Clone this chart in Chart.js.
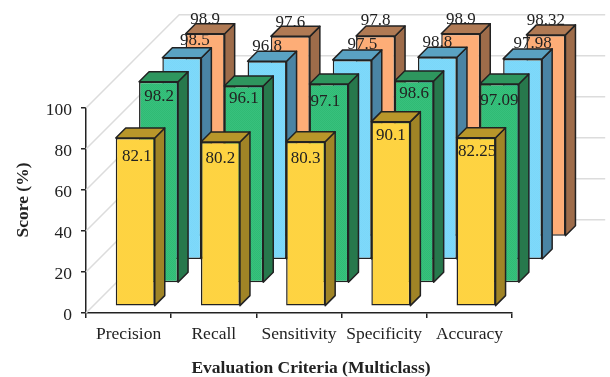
<!DOCTYPE html>
<html>
<head>
<meta charset="utf-8">
<style>
  html, body { margin: 0; background: #fff; }
  canvas { display: block; }
</style>
<script src="https://cdn.jsdelivr.net/npm/chart.js@4"></script>
</head>
<body>
<canvas id="chartId" width="610" height="377"></canvas>
<script>
const categories = ['Precision', 'Recall', 'Sensitivity', 'Specificity', 'Accuracy'];
const yTicks = [0, 20, 40, 60, 80, 100];

// rows go front to back
const frontRow = [82.1, 80.2, 80.3, 90.1, 82.25];
const secondRow = [98.2, 96.1, 97.1, 98.6, 97.09];
const thirdRow = [98.5, 96.8, 97.5, 98.8, 97.98];
const backRow = [98.9, 97.6, 97.8, 98.9, 98.32];

// hand placed value labels, offset from the middle of each bar's top edge
const labelDx = [
    [1.5, 0, 0, 0, 1],
    [0.5, 0, -3.5, 0, 0],
    [13, 0, 10, 0, 10],
    [0, 0, 0, 0, 0]
];
const labelDy = [
    [18.5, 16.5, 17, 13.5, 14],
    [14.5, 12.5, 17.5, 12.5, 16.5],
    [-17.5, -14.5, -15.5, -14.5, -15.5],
    [-14.5, -14, -15, -14.5, -14.5]
];

const SERIF = '"Liberation Serif", "Times New Roman", serif';
const ROW_STEP = 23.3;   // depth of one row
const BAR_DEPTH = 10;
const ROW_MARGIN = (ROW_STEP - BAR_DEPTH) / 2;
const WALL = ROW_STEP * 4;

function hatch(base, dot) {
    const c = document.createElement('canvas');
    c.width = 2;
    c.height = 2;
    const g = c.getContext('2d');
    g.fillStyle = base;
    g.fillRect(0, 0, 2, 2);
    g.fillStyle = dot;
    g.fillRect(0, 0, 1, 1);
    g.fillRect(1, 1, 1, 1);
    return g.createPattern(c, 'repeat');
}

const rows = [
    { data: frontRow, front: hatch('#ffd74c', '#fdd038'), side: '#a08426', top: '#b8962a' },
    { data: secondRow, front: hatch('#38c27e', '#30ba74'), side: '#27784c', top: '#2e965e' },
    { data: thirdRow, front: hatch('#88dcfc', '#72d4f8'), side: '#4a84a4', top: '#5aa2c2' },
    { data: backRow, front: hatch('#ffb27e', '#fca970'), side: '#9e6c4a', top: '#b07a54' }
];

function rowShift(i) {
    return ROW_MARGIN + i * ROW_STEP;
}

function face(ctx, pts, fill) {
    ctx.beginPath();
    pts.forEach(function(p, n) {
        if (n === 0) ctx.moveTo(p[0], p[1]);
        else ctx.lineTo(p[0], p[1]);
    });
    ctx.closePath();
    ctx.fillStyle = fill;
    ctx.fill();
    ctx.lineWidth = 1.5;
    ctx.strokeStyle = '#222';
    ctx.lineJoin = 'round';
    ctx.stroke();
}

// back wall and side wall gridlines
const wallPlugin = {
    id: 'walls',
    beforeDatasetsDraw(chart) {
        const ctx = chart.ctx;
        const area = chart.chartArea;
        const y = chart.scales.y;
        ctx.save();
        ctx.strokeStyle = '#dcdcdc';
        ctx.lineWidth = 1.5;
        yTicks.forEach(function(t) {
            const py = y.getPixelForValue(t);
            ctx.beginPath();
            ctx.moveTo(area.left, py);
            ctx.lineTo(area.left + WALL, py - WALL);
            ctx.lineTo(area.right + WALL, py - WALL);
            ctx.stroke();
        });
        ctx.restore();
    }
};

// pushes each row back and adds the top and side faces of its bars
const depthPlugin = {
    id: 'depth',
    beforeDatasetDraw(chart, args) {
        const s = rowShift(args.index);
        chart.ctx.save();
        chart.ctx.translate(s, -s);
    },
    afterDatasetDraw(chart, args) {
        const ctx = chart.ctx;
        const row = rows[args.index];
        args.meta.data.forEach(function(bar) {
            const p = bar.getProps(['x', 'y', 'base', 'width'], true);
            const l = p.x - p.width / 2;
            const r = p.x + p.width / 2;
            face(ctx, [[r, p.y], [r + BAR_DEPTH, p.y - BAR_DEPTH], [r + BAR_DEPTH, p.base - BAR_DEPTH], [r, p.base]], row.side);
            face(ctx, [[l, p.y], [l + BAR_DEPTH, p.y - BAR_DEPTH], [r + BAR_DEPTH, p.y - BAR_DEPTH], [r, p.y]], row.top);
        });
        ctx.restore();
    }
};

const textPlugin = {
    id: 'texts',
    afterDatasetsDraw(chart) {
        const ctx = chart.ctx;
        ctx.save();
        ctx.textAlign = 'center';
        ctx.textBaseline = 'middle';
        ctx.fillStyle = '#222';
        ctx.font = '17px ' + SERIF;
        rows.forEach(function(row, i) {
            const s = rowShift(i);
            chart.getDatasetMeta(i).data.forEach(function(bar, j) {
                ctx.fillText(String(row.data[j]), bar.x + s + labelDx[i][j], bar.y - s + labelDy[i][j]);
            });
        });
        ctx.font = 'bold 17.5px ' + SERIF;
        ctx.fillText('Evaluation Criteria (Multiclass)', 311, 368);
        ctx.translate(23, 200);
        ctx.rotate(-Math.PI / 2);
        ctx.fillText('Score (%)', 0, 0);
        ctx.restore();
    }
};

const chrt = document.getElementById('chartId').getContext('2d');
const chartId = new Chart(chrt, {
    type: 'bar',
    data: {
        labels: categories,
        datasets: rows.map(function(row) {
            return {
                data: row.data,
                backgroundColor: row.front,
                borderColor: '#222',
                borderWidth: 1.5,
                borderSkipped: false,
                grouped: false,
                categoryPercentage: 1,
                barPercentage: 0.458,
                clip: false
            };
        })
    },
    options: {
        responsive: false,
        animation: false,
        events: [],
        layout: { padding: { left: 0, top: 108, right: 98, bottom: 0 } },
        plugins: { legend: { display: false }, tooltip: { enabled: false }, title: { display: false } },
        scales: {
            x: {
                afterFit(scale) { scale.height = 64; },
                border: { color: '#222', width: 1.5 },
                grid: { drawOnChartArea: false, drawTicks: true, tickLength: 5, color: '#222', lineWidth: 1.5 },
                ticks: { color: '#222', padding: 6, maxRotation: 0, font: { family: SERIF, size: 17.5 } }
            },
            y: {
                min: 0,
                max: 100,
                afterFit(scale) { scale.width = 86; },
                afterBuildTicks(scale) { scale.ticks = yTicks.map(function(v) { return { value: v }; }); },
                border: { color: '#222', width: 1.5 },
                grid: { drawOnChartArea: false, drawTicks: true, tickLength: 5, color: '#222', lineWidth: 1.5 },
                ticks: { color: '#222', padding: 9, labelOffset: 2, font: { family: SERIF, size: 17.5 } }
            }
        }
    },
    plugins: [wallPlugin, depthPlugin, textPlugin]
});
</script>
</body>
</html>
